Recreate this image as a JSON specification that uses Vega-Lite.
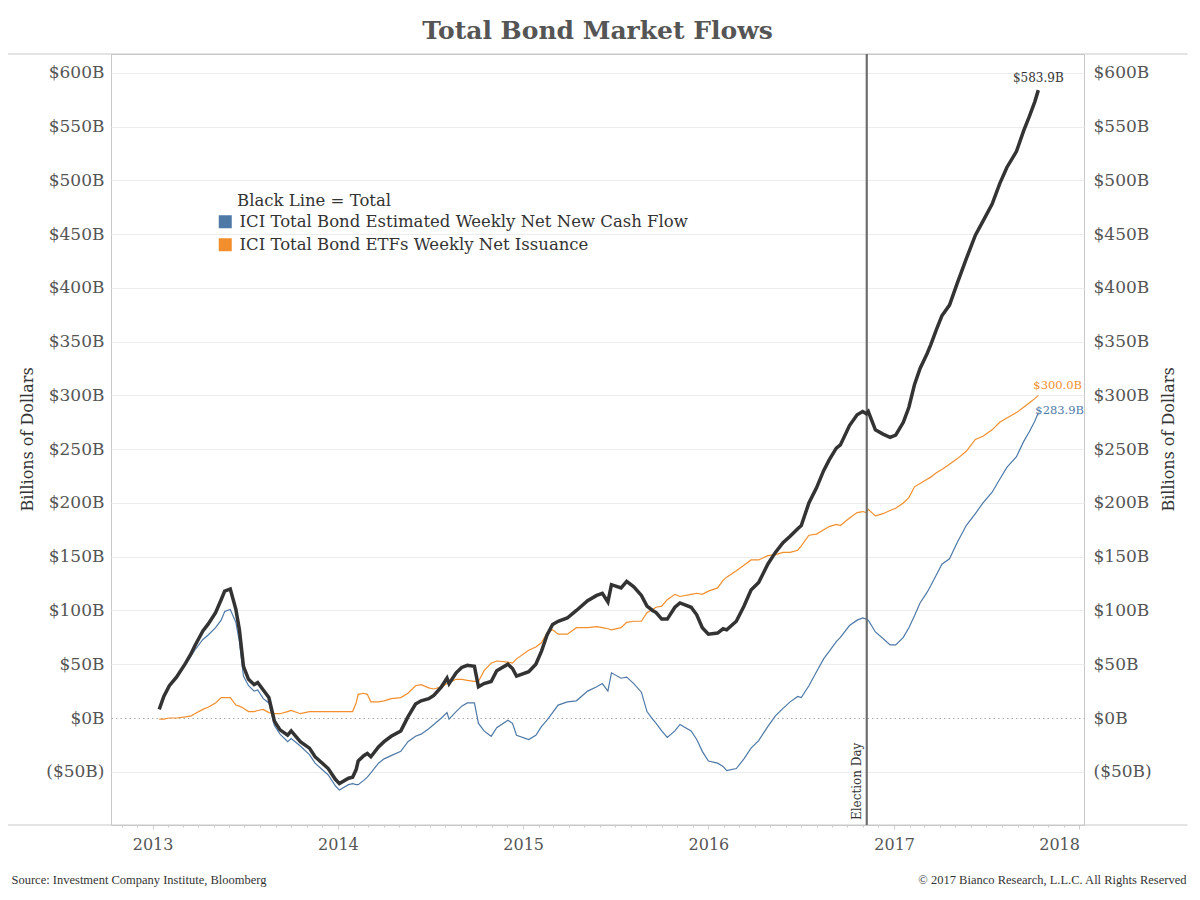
{
  "$schema": "https://vega.github.io/schema/vega-lite/v6.json",
  "width": 973,
  "height": 771,
  "autosize": {"type": "none"},
  "padding": {"left": 111, "top": 54, "right": 116, "bottom": 75},
  "background": "white",
  "title": {"text": "Total Bond Market Flows", "font": "DejaVu Serif", "fontSize": 25, "fontWeight": "bold", "color": "#555555", "anchor": "middle", "offset": 9},
  "config": {
    "view": {"stroke": "#c8c8c8", "strokeWidth": 1},
    "axis": {"labelFont": "DejaVu Serif", "titleFont": "DejaVu Serif"}
  },
  "resolve": {"axis": {"x": "independent", "y": "independent"}},
  "datasets": {
    "cash": [
      {"date": "2013-01-14", "value": 9}, {"date": "2013-01-23", "value": 21}, {"date": "2013-02-03", "value": 30}, {"date": "2013-02-17", "value": 38}, {"date": "2013-03-07", "value": 50}, {"date": "2013-03-18", "value": 58}, {"date": "2013-03-25", "value": 63}, {"date": "2013-04-10", "value": 73}, {"date": "2013-04-20", "value": 77}, {"date": "2013-05-05", "value": 84}, {"date": "2013-05-16", "value": 91}, {"date": "2013-05-23", "value": 99}, {"date": "2013-06-03", "value": 101}, {"date": "2013-06-14", "value": 89}, {"date": "2013-06-21", "value": 71}, {"date": "2013-06-29", "value": 39}, {"date": "2013-07-09", "value": 30}, {"date": "2013-07-20", "value": 25}, {"date": "2013-07-27", "value": 26}, {"date": "2013-08-07", "value": 18}, {"date": "2013-08-18", "value": 14}, {"date": "2013-08-29", "value": -7}, {"date": "2013-09-09", "value": -15}, {"date": "2013-09-24", "value": -22}, {"date": "2013-10-01", "value": -19}, {"date": "2013-10-19", "value": -26}, {"date": "2013-11-06", "value": -34}, {"date": "2013-11-17", "value": -42}, {"date": "2013-12-13", "value": -53}, {"date": "2013-12-27", "value": -63},
      {"date": "2014-01-04", "value": -67}, {"date": "2014-01-22", "value": -62}, {"date": "2014-01-30", "value": -61}, {"date": "2014-02-06", "value": -62}, {"date": "2014-02-10", "value": -62}, {"date": "2014-02-21", "value": -58}, {"date": "2014-02-28", "value": -55}, {"date": "2014-03-07", "value": -51}, {"date": "2014-03-22", "value": -42}, {"date": "2014-04-02", "value": -38}, {"date": "2014-04-16", "value": -35}, {"date": "2014-05-05", "value": -31}, {"date": "2014-05-19", "value": -22}, {"date": "2014-06-03", "value": -17}, {"date": "2014-06-14", "value": -15}, {"date": "2014-06-29", "value": -10}, {"date": "2014-07-09", "value": -6}, {"date": "2014-07-24", "value": 0}, {"date": "2014-08-04", "value": 5}, {"date": "2014-08-08", "value": -1}, {"date": "2014-08-22", "value": 6}, {"date": "2014-09-02", "value": 11}, {"date": "2014-09-13", "value": 14}, {"date": "2014-09-27", "value": 14}, {"date": "2014-10-05", "value": -5}, {"date": "2014-10-16", "value": -12}, {"date": "2014-10-30", "value": -17}, {"date": "2014-11-10", "value": -9}, {"date": "2014-12-02", "value": -2}, {"date": "2014-12-11", "value": -5}, {"date": "2014-12-19", "value": -16},
      {"date": "2015-01-12", "value": -20}, {"date": "2015-01-26", "value": -16}, {"date": "2015-02-06", "value": -8}, {"date": "2015-02-17", "value": -2}, {"date": "2015-02-28", "value": 5}, {"date": "2015-03-11", "value": 12}, {"date": "2015-03-29", "value": 15}, {"date": "2015-04-16", "value": 16}, {"date": "2015-05-08", "value": 25}, {"date": "2015-05-26", "value": 29}, {"date": "2015-06-06", "value": 32}, {"date": "2015-06-17", "value": 25}, {"date": "2015-06-24", "value": 42}, {"date": "2015-07-13", "value": 37}, {"date": "2015-07-24", "value": 38}, {"date": "2015-08-07", "value": 32}, {"date": "2015-08-22", "value": 24}, {"date": "2015-09-02", "value": 6}, {"date": "2015-09-13", "value": -1}, {"date": "2015-09-20", "value": -5}, {"date": "2015-10-01", "value": -12}, {"date": "2015-10-12", "value": -18}, {"date": "2015-10-27", "value": -12}, {"date": "2015-11-06", "value": -6}, {"date": "2015-11-28", "value": -12}, {"date": "2015-12-09", "value": -20}, {"date": "2015-12-20", "value": -31},
      {"date": "2016-01-01", "value": -40}, {"date": "2016-01-19", "value": -42}, {"date": "2016-01-30", "value": -45}, {"date": "2016-02-06", "value": -49}, {"date": "2016-02-25", "value": -47}, {"date": "2016-03-11", "value": -38}, {"date": "2016-03-25", "value": -28}, {"date": "2016-04-09", "value": -21}, {"date": "2016-04-27", "value": -8}, {"date": "2016-05-12", "value": 2}, {"date": "2016-05-27", "value": 9}, {"date": "2016-06-10", "value": 15}, {"date": "2016-06-25", "value": 20}, {"date": "2016-07-02", "value": 19}, {"date": "2016-07-17", "value": 30}, {"date": "2016-08-01", "value": 43}, {"date": "2016-08-15", "value": 55}, {"date": "2016-08-26", "value": 62}, {"date": "2016-09-09", "value": 71}, {"date": "2016-09-17", "value": 75}, {"date": "2016-10-05", "value": 86}, {"date": "2016-10-20", "value": 91}, {"date": "2016-10-31", "value": 93}, {"date": "2016-11-07", "value": 92}, {"date": "2016-11-11", "value": 91}, {"date": "2016-11-25", "value": 80}, {"date": "2016-12-10", "value": 74}, {"date": "2016-12-24", "value": 68},
      {"date": "2017-01-04", "value": 68}, {"date": "2017-01-19", "value": 75}, {"date": "2017-01-30", "value": 84}, {"date": "2017-02-10", "value": 95}, {"date": "2017-02-21", "value": 107}, {"date": "2017-03-07", "value": 117}, {"date": "2017-03-14", "value": 123}, {"date": "2017-03-25", "value": 133}, {"date": "2017-04-05", "value": 143}, {"date": "2017-04-20", "value": 148}, {"date": "2017-05-05", "value": 163}, {"date": "2017-05-23", "value": 179}, {"date": "2017-06-10", "value": 190}, {"date": "2017-06-25", "value": 200}, {"date": "2017-07-13", "value": 210}, {"date": "2017-07-28", "value": 222}, {"date": "2017-08-11", "value": 233}, {"date": "2017-08-30", "value": 243}, {"date": "2017-09-13", "value": 257}, {"date": "2017-09-24", "value": 266}, {"date": "2017-10-05", "value": 276}, {"date": "2017-10-12", "value": 283.9}
    ],
    "etf": [
      {"date": "2013-01-14", "value": -1}, {"date": "2013-01-23", "value": -1}, {"date": "2013-02-03", "value": 0}, {"date": "2013-02-17", "value": 0}, {"date": "2013-03-07", "value": 1}, {"date": "2013-03-18", "value": 2}, {"date": "2013-03-25", "value": 4}, {"date": "2013-04-10", "value": 8}, {"date": "2013-04-20", "value": 10}, {"date": "2013-05-05", "value": 14}, {"date": "2013-05-16", "value": 19}, {"date": "2013-05-23", "value": 19}, {"date": "2013-06-03", "value": 19}, {"date": "2013-06-14", "value": 12}, {"date": "2013-06-21", "value": 11}, {"date": "2013-06-29", "value": 9}, {"date": "2013-07-09", "value": 6}, {"date": "2013-07-20", "value": 6}, {"date": "2013-07-27", "value": 7}, {"date": "2013-08-07", "value": 8}, {"date": "2013-08-18", "value": 5}, {"date": "2013-08-29", "value": 4}, {"date": "2013-09-09", "value": 4}, {"date": "2013-09-24", "value": 6}, {"date": "2013-10-01", "value": 7}, {"date": "2013-10-19", "value": 4}, {"date": "2013-11-06", "value": 6}, {"date": "2013-11-17", "value": 6}, {"date": "2013-12-13", "value": 6}, {"date": "2013-12-27", "value": 6},
      {"date": "2014-01-04", "value": 6}, {"date": "2014-01-22", "value": 6}, {"date": "2014-01-30", "value": 6}, {"date": "2014-02-06", "value": 14}, {"date": "2014-02-10", "value": 22}, {"date": "2014-02-21", "value": 23}, {"date": "2014-02-28", "value": 22}, {"date": "2014-03-07", "value": 15}, {"date": "2014-03-22", "value": 15}, {"date": "2014-04-02", "value": 16}, {"date": "2014-04-16", "value": 18}, {"date": "2014-05-05", "value": 19}, {"date": "2014-05-19", "value": 23}, {"date": "2014-06-03", "value": 30}, {"date": "2014-06-14", "value": 31}, {"date": "2014-06-29", "value": 28}, {"date": "2014-07-09", "value": 27}, {"date": "2014-07-24", "value": 29}, {"date": "2014-08-04", "value": 32}, {"date": "2014-08-08", "value": 33}, {"date": "2014-08-22", "value": 36}, {"date": "2014-09-02", "value": 36}, {"date": "2014-09-13", "value": 35}, {"date": "2014-09-27", "value": 34}, {"date": "2014-10-05", "value": 34}, {"date": "2014-10-16", "value": 44}, {"date": "2014-10-30", "value": 51}, {"date": "2014-11-10", "value": 53}, {"date": "2014-12-02", "value": 52}, {"date": "2014-12-11", "value": 51}, {"date": "2014-12-19", "value": 55},
      {"date": "2015-01-12", "value": 63}, {"date": "2015-01-26", "value": 66}, {"date": "2015-02-06", "value": 70}, {"date": "2015-02-17", "value": 79}, {"date": "2015-02-28", "value": 82}, {"date": "2015-03-11", "value": 78}, {"date": "2015-03-29", "value": 78}, {"date": "2015-04-16", "value": 84}, {"date": "2015-05-08", "value": 84}, {"date": "2015-05-26", "value": 85}, {"date": "2015-06-06", "value": 84}, {"date": "2015-06-17", "value": 83}, {"date": "2015-06-24", "value": 82}, {"date": "2015-07-13", "value": 84}, {"date": "2015-07-24", "value": 89}, {"date": "2015-08-07", "value": 90}, {"date": "2015-08-22", "value": 90}, {"date": "2015-09-02", "value": 98}, {"date": "2015-09-13", "value": 101}, {"date": "2015-09-20", "value": 103}, {"date": "2015-10-01", "value": 104}, {"date": "2015-10-12", "value": 110}, {"date": "2015-10-27", "value": 115}, {"date": "2015-11-06", "value": 113}, {"date": "2015-11-28", "value": 115}, {"date": "2015-12-09", "value": 116}, {"date": "2015-12-20", "value": 115},
      {"date": "2016-01-01", "value": 118}, {"date": "2016-01-19", "value": 121}, {"date": "2016-01-30", "value": 128}, {"date": "2016-02-06", "value": 131}, {"date": "2016-02-25", "value": 137}, {"date": "2016-03-11", "value": 142}, {"date": "2016-03-25", "value": 147}, {"date": "2016-04-09", "value": 147}, {"date": "2016-04-27", "value": 151}, {"date": "2016-05-12", "value": 152}, {"date": "2016-05-27", "value": 154}, {"date": "2016-06-10", "value": 154}, {"date": "2016-06-25", "value": 156}, {"date": "2016-07-02", "value": 160}, {"date": "2016-07-17", "value": 170}, {"date": "2016-08-01", "value": 171}, {"date": "2016-08-15", "value": 175}, {"date": "2016-08-26", "value": 178}, {"date": "2016-09-09", "value": 180}, {"date": "2016-09-17", "value": 179}, {"date": "2016-10-05", "value": 186}, {"date": "2016-10-20", "value": 191}, {"date": "2016-10-31", "value": 192}, {"date": "2016-11-07", "value": 191}, {"date": "2016-11-11", "value": 194}, {"date": "2016-11-25", "value": 188}, {"date": "2016-12-10", "value": 190}, {"date": "2016-12-24", "value": 193},
      {"date": "2017-01-04", "value": 195}, {"date": "2017-01-19", "value": 200}, {"date": "2017-01-30", "value": 205}, {"date": "2017-02-10", "value": 215}, {"date": "2017-02-21", "value": 218}, {"date": "2017-03-07", "value": 222}, {"date": "2017-03-14", "value": 224}, {"date": "2017-03-25", "value": 228}, {"date": "2017-04-05", "value": 231}, {"date": "2017-04-20", "value": 236}, {"date": "2017-05-05", "value": 241}, {"date": "2017-05-23", "value": 248}, {"date": "2017-06-10", "value": 259}, {"date": "2017-06-25", "value": 262}, {"date": "2017-07-13", "value": 268}, {"date": "2017-07-28", "value": 275}, {"date": "2017-08-11", "value": 279}, {"date": "2017-08-30", "value": 284}, {"date": "2017-09-13", "value": 289}, {"date": "2017-09-24", "value": 293}, {"date": "2017-10-05", "value": 297}, {"date": "2017-10-12", "value": 300}
    ],
    "total": [
      {"date": "2013-01-14", "value": 8}, {"date": "2013-01-23", "value": 20}, {"date": "2013-02-03", "value": 30}, {"date": "2013-02-17", "value": 38}, {"date": "2013-03-07", "value": 51}, {"date": "2013-03-18", "value": 60}, {"date": "2013-03-25", "value": 67}, {"date": "2013-04-10", "value": 81}, {"date": "2013-04-20", "value": 87}, {"date": "2013-05-05", "value": 98}, {"date": "2013-05-16", "value": 110}, {"date": "2013-05-23", "value": 118}, {"date": "2013-06-03", "value": 120}, {"date": "2013-06-14", "value": 101}, {"date": "2013-06-21", "value": 82}, {"date": "2013-06-29", "value": 48}, {"date": "2013-07-09", "value": 36}, {"date": "2013-07-20", "value": 31}, {"date": "2013-07-27", "value": 33}, {"date": "2013-08-07", "value": 26}, {"date": "2013-08-18", "value": 19}, {"date": "2013-08-29", "value": -3}, {"date": "2013-09-09", "value": -11}, {"date": "2013-09-24", "value": -16}, {"date": "2013-10-01", "value": -12}, {"date": "2013-10-19", "value": -22}, {"date": "2013-11-06", "value": -28}, {"date": "2013-11-17", "value": -36}, {"date": "2013-12-13", "value": -47}, {"date": "2013-12-27", "value": -57},
      {"date": "2014-01-04", "value": -61}, {"date": "2014-01-22", "value": -56}, {"date": "2014-01-30", "value": -55}, {"date": "2014-02-06", "value": -48}, {"date": "2014-02-10", "value": -40}, {"date": "2014-02-21", "value": -35}, {"date": "2014-02-28", "value": -33}, {"date": "2014-03-07", "value": -36}, {"date": "2014-03-22", "value": -27}, {"date": "2014-04-02", "value": -22}, {"date": "2014-04-16", "value": -17}, {"date": "2014-05-05", "value": -12}, {"date": "2014-05-19", "value": 1}, {"date": "2014-06-03", "value": 13}, {"date": "2014-06-14", "value": 16}, {"date": "2014-06-29", "value": 18}, {"date": "2014-07-09", "value": 21}, {"date": "2014-07-24", "value": 29}, {"date": "2014-08-04", "value": 37}, {"date": "2014-08-08", "value": 32}, {"date": "2014-08-22", "value": 42}, {"date": "2014-09-02", "value": 47}, {"date": "2014-09-13", "value": 49}, {"date": "2014-09-27", "value": 48}, {"date": "2014-10-05", "value": 29}, {"date": "2014-10-16", "value": 32}, {"date": "2014-10-30", "value": 34}, {"date": "2014-11-10", "value": 44}, {"date": "2014-12-02", "value": 50}, {"date": "2014-12-11", "value": 46}, {"date": "2014-12-19", "value": 39},
      {"date": "2015-01-12", "value": 43}, {"date": "2015-01-26", "value": 50}, {"date": "2015-02-06", "value": 62}, {"date": "2015-02-17", "value": 77}, {"date": "2015-02-28", "value": 87}, {"date": "2015-03-11", "value": 90}, {"date": "2015-03-29", "value": 93}, {"date": "2015-04-16", "value": 100}, {"date": "2015-05-08", "value": 109}, {"date": "2015-05-26", "value": 114}, {"date": "2015-06-06", "value": 116}, {"date": "2015-06-17", "value": 108}, {"date": "2015-06-24", "value": 124}, {"date": "2015-07-13", "value": 121}, {"date": "2015-07-24", "value": 127}, {"date": "2015-08-07", "value": 122}, {"date": "2015-08-22", "value": 114}, {"date": "2015-09-02", "value": 104}, {"date": "2015-09-13", "value": 100}, {"date": "2015-09-20", "value": 98}, {"date": "2015-10-01", "value": 92}, {"date": "2015-10-12", "value": 92}, {"date": "2015-10-27", "value": 103}, {"date": "2015-11-06", "value": 107}, {"date": "2015-11-28", "value": 103}, {"date": "2015-12-09", "value": 96}, {"date": "2015-12-20", "value": 84},
      {"date": "2016-01-01", "value": 78}, {"date": "2016-01-19", "value": 79}, {"date": "2016-01-30", "value": 83}, {"date": "2016-02-06", "value": 82}, {"date": "2016-02-25", "value": 90}, {"date": "2016-03-11", "value": 104}, {"date": "2016-03-25", "value": 119}, {"date": "2016-04-09", "value": 126}, {"date": "2016-04-27", "value": 143}, {"date": "2016-05-12", "value": 154}, {"date": "2016-05-27", "value": 163}, {"date": "2016-06-10", "value": 169}, {"date": "2016-06-25", "value": 176}, {"date": "2016-07-02", "value": 179}, {"date": "2016-07-17", "value": 200}, {"date": "2016-08-01", "value": 214}, {"date": "2016-08-15", "value": 230}, {"date": "2016-08-26", "value": 240}, {"date": "2016-09-09", "value": 251}, {"date": "2016-09-17", "value": 254}, {"date": "2016-10-05", "value": 272}, {"date": "2016-10-20", "value": 282}, {"date": "2016-10-31", "value": 285}, {"date": "2016-11-07", "value": 283}, {"date": "2016-11-11", "value": 285}, {"date": "2016-11-25", "value": 268}, {"date": "2016-12-10", "value": 264}, {"date": "2016-12-24", "value": 261},
      {"date": "2017-01-04", "value": 263}, {"date": "2017-01-19", "value": 275}, {"date": "2017-01-30", "value": 289}, {"date": "2017-02-10", "value": 310}, {"date": "2017-02-21", "value": 325}, {"date": "2017-03-07", "value": 339}, {"date": "2017-03-14", "value": 347}, {"date": "2017-03-25", "value": 361}, {"date": "2017-04-05", "value": 374}, {"date": "2017-04-20", "value": 384}, {"date": "2017-05-05", "value": 404}, {"date": "2017-05-23", "value": 427}, {"date": "2017-06-10", "value": 449}, {"date": "2017-06-25", "value": 462}, {"date": "2017-07-13", "value": 478}, {"date": "2017-07-28", "value": 497}, {"date": "2017-08-11", "value": 512}, {"date": "2017-08-30", "value": 527}, {"date": "2017-09-13", "value": 546}, {"date": "2017-09-24", "value": 559}, {"date": "2017-10-05", "value": 573}, {"date": "2017-10-12", "value": 583.9}
    ],
    "labels": [
      {"date": "2017-10-12", "value": 583.9, "label": "$583.9B", "series": "total"},
      {"date": "2017-10-12", "value": 300, "label": "$300.0B", "series": "etf"},
      {"date": "2017-10-12", "value": 283.9, "label": "$283.9B", "series": "cash"}
    ]
  },
  "layer": [
    {
      "data": {"values": [{}]},
      "mark": {"type": "rule", "color": "#c8c8c8", "strokeWidth": 1},
      "encoding": {
        "x": {"datum": {"year": 2012, "month": 3, "date": 22, "utc": true}, "type": "temporal", "axis": null},
        "x2": {"datum": {"year": 2018, "month": 8, "date": 2, "utc": true}},
        "y": {"datum": 617.5, "type": "quantitative", "axis": null}
      }
    },
    {
      "data": {"values": [{}]},
      "mark": {"type": "rule", "color": "#c8c8c8", "strokeWidth": 1},
      "encoding": {
        "x": {"datum": {"year": 2012, "month": 3, "date": 22, "utc": true}, "type": "temporal", "axis": null},
        "x2": {"datum": {"year": 2018, "month": 8, "date": 2, "utc": true}},
        "y": {"datum": -99.5, "type": "quantitative", "axis": null}
      }
    },
    {
      "data": {"name": "cash"},
      "mark": {"type": "line", "strokeWidth": 1.2, "clip": true},
      "encoding": {
        "x": {
          "field": "date", "type": "temporal",
          "scale": {"type": "utc", "domain": [{"year": 2012, "month": 10, "date": 11, "utc": true}, {"year": 2018, "month": 1, "date": 10, "utc": true}], "nice": false},
          "axis": {
            "orient": "bottom", "domain": false, "grid": false,
            "tickCount": {"interval": "month", "step": 1},
            "labelExpr": "utcmonth(datum.value) === 0 ? utcFormat(datum.value, '%Y') : ''",
            "labelFontSize": 16, "labelColor": "#555555", "labelPadding": 7, "labelFlush": 8, "labelOverlap": false,
            "tickColor": "#cccccc", "tickWidth": 1,
            "tickSize": {"condition": {"test": "utcmonth(datum.value) === 0", "value": 4}, "value": 2},
            "title": "Source: Investment Company Institute, Bloomberg",
            "titleFont": "Liberation Serif", "titleFontSize": 12.5, "titleFontWeight": "normal", "titleColor": "#333333",
            "titleX": -100, "titleY": 58, "titleAlign": "left", "titleAnchor": null, "titleBaseline": "alphabetic", "titleAngle": 0
          }
        },
        "y": {
          "field": "value", "type": "quantitative",
          "scale": {"domain": [-99.5, 617.5], "nice": false, "zero": false},
          "axis": {
            "orient": "left", "domain": false, "ticks": false,
            "values": [-50, 0, 50, 100, 150, 200, 250, 300, 350, 400, 450, 500, 550, 600],
            "labelExpr": "datum.value < 0 ? '($' + abs(datum.value) + 'B)' : '$' + datum.value + 'B'",
            "labelFontSize": 17, "labelColor": "#555555", "labelPadding": 7,
            "grid": true,
            "gridColor": {"condition": {"test": "datum.value === 0", "value": "#aaaaaa"}, "value": "#ececec"},
            "gridDash": {"condition": {"test": "datum.value === 0", "value": [1.5, 3]}, "value": []},
            "gridWidth": 1,
            "title": "Billions of Dollars", "titleFontSize": 16, "titleFontWeight": "normal", "titleColor": "#333333",
            "titleX": -84, "titleY": 385, "titleAngle": -90, "titleAlign": "center", "titleBaseline": "middle", "titleAnchor": null
          }
        },
        "color": {
          "datum": "ICI Total Bond Estimated Weekly Net New Cash Flow",
          "scale": {"domain": ["ICI Total Bond Estimated Weekly Net New Cash Flow", "ICI Total Bond ETFs Weekly Net Issuance"], "range": ["#4e79a7", "#f28e2b"]},
          "legend": {
            "title": "Black Line = Total",
            "orient": "none", "legendX": 106, "legendY": 139,
            "symbolType": "square", "symbolSize": 169, "symbolStrokeWidth": 0,
            "labelFont": "DejaVu Serif", "labelFontSize": 16.5, "labelColor": "#333333", "labelLimit": 700, "labelOffset": 6,
            "titleFont": "DejaVu Serif", "titleFontSize": 16.5, "titleFontWeight": "normal", "titleColor": "#333333", "titlePadding": 4, "titleLimit": 700,
            "rowPadding": 6,
            "encode": {
              "symbols": {"update": {"fill": {"scale": "color", "field": "value"}, "fillOpacity": {"value": 1}, "strokeWidth": {"value": 0}}},
              "title": {"update": {"dx": {"value": 20}}}
            }
          }
        }
      }
    },
    {
      "data": {"name": "etf"},
      "mark": {"type": "line", "strokeWidth": 1.2, "clip": true},
      "encoding": {
        "x": {"field": "date", "type": "temporal", "axis": null},
        "y": {"field": "value", "type": "quantitative", "axis": null},
        "color": {"datum": "ICI Total Bond ETFs Weekly Net Issuance"}
      }
    },
    {
      "data": {"values": [{}]},
      "mark": {"type": "rule", "color": "#6e6e6e", "strokeWidth": 2.2},
      "encoding": {
        "x": {"datum": {"year": 2016, "month": 11, "date": 8, "utc": true}, "type": "temporal", "axis": null}
      }
    },
    {
      "data": {"values": [{}]},
      "mark": {"type": "text", "text": "Election Day", "angle": 270, "align": "left", "baseline": "bottom", "dx": 5, "dy": -3, "font": "DejaVu Serif", "fontSize": 12, "color": "#333333"},
      "encoding": {
        "x": {"datum": {"year": 2016, "month": 11, "date": 8, "utc": true}, "type": "temporal", "axis": null},
        "y": {"datum": -99.5, "type": "quantitative", "axis": null}
      }
    },
    {
      "data": {"name": "total"},
      "mark": {"type": "line", "strokeWidth": 3.5, "color": "#333333", "clip": true},
      "encoding": {
        "x": {
          "field": "date", "type": "temporal",
          "axis": {
            "orient": "top", "labels": false, "ticks": false, "domain": false, "grid": false,
            "title": "© 2017 Bianco Research, L.L.C. All Rights Reserved",
            "titleFont": "Liberation Serif", "titleFontSize": 12.5, "titleFontWeight": "normal", "titleColor": "#333333",
            "titleX": 1075, "titleY": 829, "titleAlign": "right", "titleAnchor": null, "titleBaseline": "alphabetic", "titleAngle": 0
          }
        },
        "y": {
          "field": "value", "type": "quantitative",
          "axis": {
            "orient": "right", "domain": false, "ticks": false, "grid": false,
            "values": [-50, 0, 50, 100, 150, 200, 250, 300, 350, 400, 450, 500, 550, 600],
            "labelExpr": "datum.value < 0 ? '($' + abs(datum.value) + 'B)' : '$' + datum.value + 'B'",
            "labelFontSize": 17, "labelColor": "#555555", "labelPadding": 9, "labelAlign": "left",
            "title": "Billions of Dollars", "titleFontSize": 16, "titleFontWeight": "normal", "titleColor": "#333333",
            "titleX": 84, "titleY": 385, "titleAngle": -90, "titleAlign": "center", "titleBaseline": "middle", "titleAnchor": null
          }
        }
      }
    },
    {
      "data": {"name": "labels"},
      "transform": [{"filter": "datum.series === 'total'"}],
      "mark": {"type": "text", "align": "center", "baseline": "middle", "dy": -12, "font": "DejaVu Serif", "fontSize": 12, "color": "#333333"},
      "encoding": {
        "x": {"field": "date", "type": "temporal", "axis": null},
        "y": {"field": "value", "type": "quantitative", "axis": null},
        "text": {"field": "label"}
      }
    },
    {
      "data": {"name": "labels"},
      "transform": [{"filter": "datum.series === 'etf'"}],
      "mark": {"type": "text", "align": "left", "baseline": "middle", "dx": -5, "dy": -9, "font": "DejaVu Serif", "fontSize": 11.5, "color": "#f28e2b"},
      "encoding": {
        "x": {"field": "date", "type": "temporal", "axis": null},
        "y": {"field": "value", "type": "quantitative", "axis": null},
        "text": {"field": "label"}
      }
    },
    {
      "data": {"name": "labels"},
      "transform": [{"filter": "datum.series === 'cash'"}],
      "mark": {"type": "text", "align": "left", "baseline": "middle", "dx": -3, "dy": -2, "font": "DejaVu Serif", "fontSize": 11.5, "color": "#4e79a7"},
      "encoding": {
        "x": {"field": "date", "type": "temporal", "axis": null},
        "y": {"field": "value", "type": "quantitative", "axis": null},
        "text": {"field": "label"}
      }
    }
  ]
}
